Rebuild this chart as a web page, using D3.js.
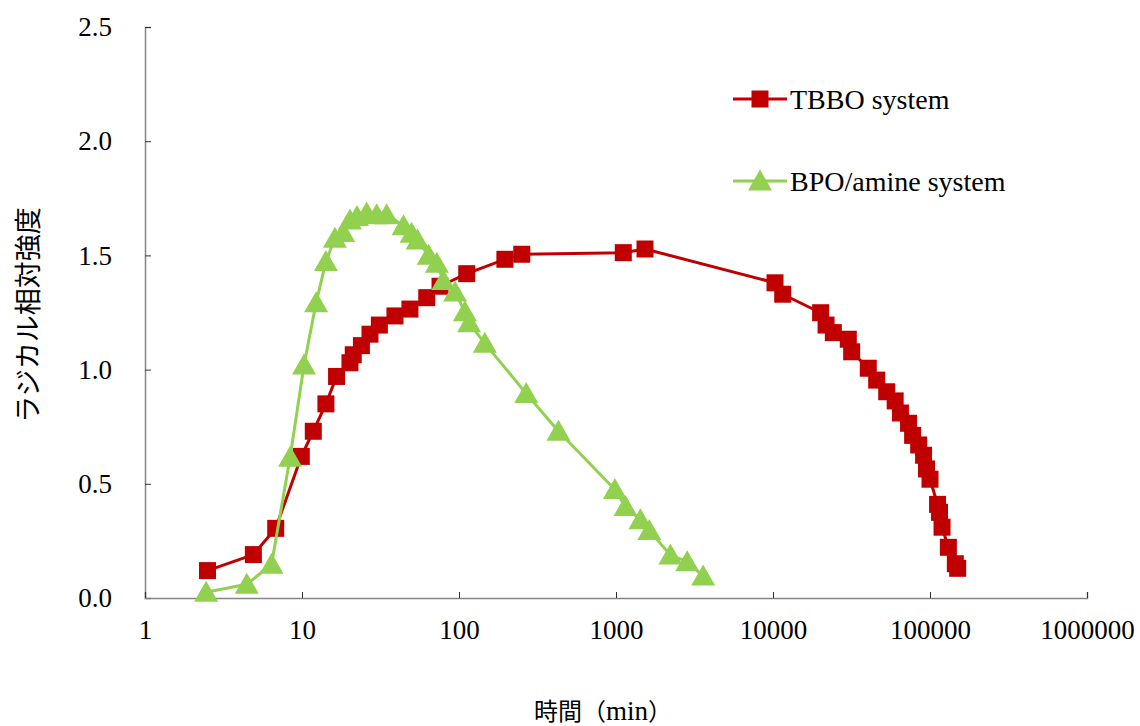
<!DOCTYPE html>
<html>
<head>
<meta charset="utf-8">
<script src="https://cdn.jsdelivr.net/npm/d3@7/dist/d3.min.js"></script>
<style>
  html, body { margin: 0; padding: 0; background: #fff; }
  svg { display: block; }
  .latin { font-family: 'Liberation Serif', 'Times New Roman', serif; }
  .cjk { font-family: 'Noto Sans CJK JP', sans-serif; }
</style>
</head>
<body>
<svg id="chart" width="1140" height="726"></svg>
<script>
// ---- data ----
const seriesNames = ["TBBO system", "BPO/amine system"];
const tbboTime = [2.5, 4.9, 6.8, 9.9, 11.8, 14.2, 16.6, 20.2, 21.2, 23.9, 27.1, 31.1, 39.1, 48.7, 62.3, 75.7, 112, 196, 251, 1113, 1530,
  10300, 11530, 20100, 21770, 24230, 30170, 31700, 40450, 45750, 53000, 60000, 64800, 73000, 77500, 84700, 91000, 95000, 100000,
  111700, 115000, 119300, 130900, 145000, 150000];
const tbboValue = [0.12, 0.19, 0.305, 0.62, 0.73, 0.85, 0.97, 1.03, 1.065, 1.105, 1.155, 1.195, 1.235, 1.265, 1.315, 1.365, 1.42, 1.483, 1.505, 1.512, 1.528,
  1.38, 1.33, 1.249, 1.195, 1.162, 1.133, 1.078, 1.006, 0.954, 0.903, 0.863, 0.81, 0.765, 0.712, 0.67, 0.625, 0.565, 0.52,
  0.41, 0.375, 0.31, 0.222, 0.15, 0.13];
const bpoTime = [2.45, 4.45, 6.4, 8.4, 10.3, 12.3, 14.2, 16.2, 18.3, 20.2, 22.4, 25.8, 29.9, 34.6, 44.3, 49.9, 54.4, 64.1, 72.3, 79.4,
  94.4, 109, 116, 146, 268, 430, 983, 1150, 1430, 1630, 2220, 2840, 3590];
const bpoValue = [0.025, 0.06, 0.148, 0.616, 1.02, 1.293, 1.473, 1.575, 1.60, 1.655, 1.67, 1.685, 1.678, 1.678, 1.63, 1.597, 1.567, 1.50, 1.465, 1.39,
  1.34, 1.253, 1.205, 1.115, 0.895, 0.73, 0.475, 0.40, 0.342, 0.295, 0.188, 0.159, 0.096];
const xTicks = [1, 10, 100, 1000, 10000, 100000, 1000000];
const yTicks = [0, 0.5, 1.0, 1.5, 2.0, 2.5];
const xTitleParts = [["時間（", "cjk"], ["min", "latin"], ["）", "cjk"]];
const yTitle = "ラジカル相対強度";

// ---- layout ----
const colors = { red: "#C00000", green: "#92D050" };
const svg = d3.select("#chart");
const x = d3.scaleLog().domain([1, 1000000]).range([145, 1087]);
const y = d3.scaleLinear().domain([0, 2.5]).range([598, 27]);
const latinFont = "'Liberation Serif', 'Times New Roman', serif";
const cjkFont = "'Noto Sans CJK JP', sans-serif";

// axes
const yAxis = svg.append("g").attr("transform", "translate(145,0)")
  .call(d3.axisLeft(y).tickValues(yTicks).tickSize(-6).tickPadding(33).tickFormat(d3.format(".1f")));
const xAxis = svg.append("g").attr("transform", "translate(0,598)")
  .call(d3.axisBottom(x).tickValues(xTicks).tickSize(-6).tickPadding(22).tickFormat(d3.format("d")));
[yAxis, xAxis].forEach(g => {
  g.attr("font-family", latinFont);
  g.select(".domain").attr("stroke", "#858585").attr("stroke-width", 1.5);
  g.selectAll(".tick line").attr("stroke", "#333").attr("stroke-width", 1);
  g.selectAll(".tick text").attr("fill", "#000").style("font-family", latinFont).style("font-size", "27px");
});

// shapes
function squarePath(s) { const h = s / 2; return `M${-h},${-h}H${h}V${h}H${-h}Z`; }
function trianglePath(w, h) { return `M0,${-h * 0.55}L${w / 2},${h * 0.45}L${-w / 2},${h * 0.45}Z`; }

const line = d3.line().x(d => x(d[0])).y(d => y(d[1]));

function drawSeries(times, values, color, marker) {
  const pts = times.map((t, i) => [t, values[i]]);
  const g = svg.append("g");
  g.append("path").datum(pts).attr("d", line).attr("fill", "none")
    .attr("stroke", color).attr("stroke-width", 3).attr("stroke-linejoin", "round");
  g.selectAll("path.m").data(pts).enter().append("path").attr("class", "m")
    .attr("d", marker).attr("fill", color)
    .attr("transform", d => `translate(${x(d[0])},${y(d[1])})`);
}
drawSeries(tbboTime, tbboValue, colors.red, squarePath(17));
drawSeries(bpoTime, bpoValue, colors.green, trianglePath(24, 21));

// legend
const legend = [
  { name: seriesNames[0], color: colors.red, marker: squarePath(17), y: 99 },
  { name: seriesNames[1], color: colors.green, marker: trianglePath(24, 21), y: 181 }
];
legend.forEach(l => {
  const g = svg.append("g");
  g.append("line").attr("x1", 733).attr("x2", 787).attr("y1", l.y).attr("y2", l.y)
    .attr("stroke", l.color).attr("stroke-width", 3);
  g.append("path").attr("d", l.marker).attr("fill", l.color).attr("transform", `translate(760,${l.y})`);
  g.append("text").attr("class", "latin").attr("x", 790).attr("y", l.y).attr("dy", "0.35em").text(l.name)
    .style("font-size", "28px").attr("fill", "#000");
});

// titles
const xt = svg.append("text").attr("x", 603).attr("y", 712).attr("text-anchor", "middle").attr("dy", "0.35em")
  .style("font-size", "24px");
xTitleParts.forEach(([t, f]) => {
  xt.append("tspan").attr("class", f).text(t)
    .style("font-size", f === "cjk" ? "24px" : "27px");
});
svg.append("text").attr("class", "cjk").attr("transform", "translate(29,315) rotate(-90)").attr("text-anchor", "middle").attr("dy", "0.35em")
  .style("font-size", "27px").text(yTitle);
</script>
</body>
</html>
